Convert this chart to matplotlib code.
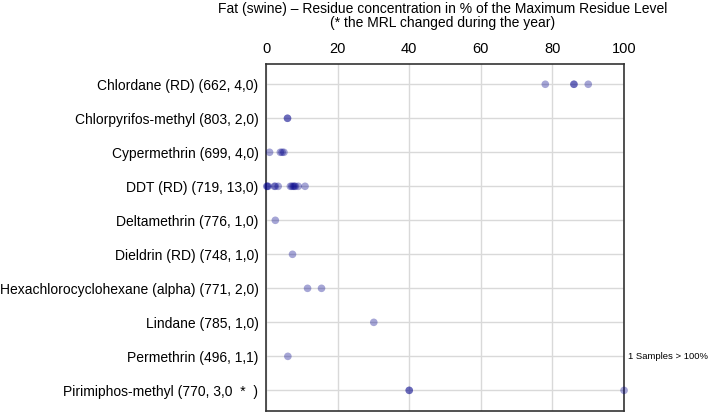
import matplotlib
matplotlib.use("Agg")
import matplotlib.pyplot as plt

# substances (top to bottom) and residue values in % of MRL
labels = [
    "Chlordane (RD) (662, 4,0)",
    "Chlorpyrifos-methyl (803, 2,0)",
    "Cypermethrin (699, 4,0)",
    "DDT (RD) (719, 13,0)",
    "Deltamethrin (776, 1,0)",
    "Dieldrin (RD) (748, 1,0)",
    "Hexachlorocyclohexane (alpha) (771, 2,0)",
    "Lindane (785, 1,0)",
    "Permethrin (496, 1,1)",
    "Pirimiphos-methyl (770, 3,0  *  )",
]
chlordane = [78, 86, 86, 90]
chlorpyrifos = [6, 6]
cypermethrin = [1, 4, 4.5, 5]
ddt = [0.2, 0.4, 0.6, 2.3, 2.6, 3.4, 6.8, 7.2, 7.6, 7.9, 8.2, 9.0, 10.9]
deltamethrin = [2.6]
dieldrin = [7.4]
hch = [11.6, 15.5]
lindane = [30.1]
permethrin = [6.1]
pirimiphos = [40, 40, 100]
values = [chlordane, chlorpyrifos, cypermethrin, ddt, deltamethrin,
          dieldrin, hch, lindane, permethrin, pirimiphos]
ticks = [0, 20, 40, 60, 80, 100]

plt.rcParams["font.family"] = ["Liberation Sans", "DejaVu Sans"]

fig = plt.figure(figsize=(7.09, 4.12), dpi=100)
ax = fig.add_axes([0.3752, 0.003, 0.505, 0.842])

for i, vals in enumerate(values):
    ax.scatter(vals, [i] * len(vals), s=30, color="#00008a", alpha=0.35,
               edgecolors="none", clip_on=False, zorder=3)

ax.set_xlim(0, 100)
ax.set_ylim(len(labels) - 0.4, -0.6)
ax.set_yticks(range(len(labels)))
ax.set_yticklabels(labels, fontsize=10)
ax.set_xticks(ticks)
ax.xaxis.tick_top()
ax.tick_params(axis="x", length=0, labelsize=10.5, pad=6)
ax.tick_params(axis="y", length=0, pad=5.5)
ax.grid(True, color="#d9d9d9", linewidth=1)
ax.set_axisbelow(True)
for sp in ax.spines.values():
    sp.set_color("#333333")
    sp.set_linewidth(1.2)

ax.text(1.01, 8, "1 Samples > 100%", transform=ax.get_yaxis_transform(),
        fontsize=6.8, va="center", ha="left")

fig.text(0.624, 0.995, "Fat (swine) \u2013 Residue concentration in % of the Maximum Residue Level\n(* the MRL changed during the year)",
         ha="center", va="top", fontsize=10, linespacing=1.0)

fig.savefig("out.png", dpi=100)
